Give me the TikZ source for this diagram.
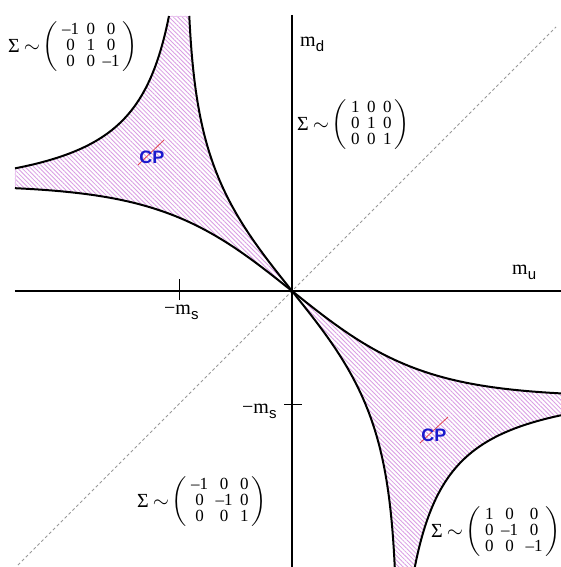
\documentclass[tikz,border=0pt]{standalone}
\usepackage{exscale}
\usepackage{fontspec}
\setmainfont{Liberation Serif}
\setsansfont{Liberation Sans}
\usetikzlibrary{patterns.meta,calc}
\definecolor{hatchcol}{RGB}{218,158,228}
\definecolor{cpblue}{RGB}{25,25,205}
\definecolor{cpred}{RGB}{225,70,80}
\newcommand{\SigMat}[3]{{\fontsize{20}{20}\selectfont Σ\hspace{4pt}$\sim$\hspace{3pt}$\biggl(\vcenter{\hbox{\fontsize{17}{15.5}\selectfont\begin{tabular}{@{\hspace{4pt}}c@{\hspace{7.5pt}}c@{\hspace{7.5pt}}c@{\hspace{3pt}}}#1\\#2\\#3\end{tabular}}}\biggr)$}}
\newcommand{\MLab}[2]{{\fontsize{20}{20}\selectfont #1m\raisebox{-5pt}{\sffamily\fontsize{15}{15}\selectfont #2}}}
\tikzset{
  axisline/.style={line width=1.9pt},
  bcurve/.style={line width=2pt},
  ticky/.style={line width=0.8pt},
  hatchfill/.style={pattern={Lines[angle=-45,distance=3.1pt,line width=0.85pt]},pattern color=hatchcol},
  pinkedge/.style={draw=hatchcol!60,line width=0.6pt},
  diag/.style={draw=black!40,line width=0.8pt,dash pattern=on 3pt off 2.5pt},
  siglab/.style={anchor=west,inner sep=0pt},
  mlab/.style={anchor=base west,inner sep=0pt},
  cptext/.style={text=cpblue,font=\sffamily\bfseries\fontsize{18}{18}\selectfont,inner sep=0pt},
  cpslash/.style={draw=cpred,line width=0.8pt}
}
\def\ms{106}
\def\cc{0.8}
\def\kk{85}
\begin{document}
\begin{tikzpicture}[x=1pt,y=1pt]
\useasboundingbox (-292,-276) rectangle (269,291);
\fill[white] (-292,-276) rectangle (269,291);
% coordinates
\coordinate (O) at (0,0);
\coordinate (xl) at (-277,0);
\coordinate (xr) at (269,0);
\coordinate (yt) at (0,276);
\coordinate (yb) at (0,-276);
\coordinate (dl) at (-274,-274);
\coordinate (dr) at (264,264);
% hatched regions
\path[hatchfill] (O)
  -- plot[domain=0:275,samples=80] ({-\ms*tanh(\cc*\x/\ms)},{\x})
  -- plot[domain=275:122.63,samples=80] ({-(\kk+7225/(\x-\kk))},{\x})
  -- plot[domain=277:0,samples=80] ({-\x},{\ms*tanh(\cc*\x/\ms)})
  -- cycle;
\path[hatchfill] (O)
  -- plot[domain=0:276,samples=80] ({\ms*tanh(\cc*\x/\ms)},{-\x})
  -- plot[domain=276:124.27,samples=80] ({\kk+7225/(\x-\kk)},{-\x})
  -- plot[domain=269:0,samples=80] ({\x},{-\ms*tanh(\cc*\x/\ms)})
  -- cycle;
\draw[pinkedge] ({-(\kk+7225/(275-\kk))},275) -- ({-\ms*tanh(\cc*275/\ms)},275);
\draw[pinkedge] (-277,122.63) -- (-277,{\ms*tanh(\cc*277/\ms)});
% diagonal
\draw[diag] (dl) -- (dr);
% axes
\draw[axisline] (xl) -- (xr);
\draw[axisline] (yt) -- (yb);
\draw[ticky] (-113,-9) -- (-113,12);
\draw[ticky] (-8,-113) -- (10,-113);
% boundary curves
\draw[bcurve] plot[domain=0:275,samples=80] ({-\ms*tanh(\cc*\x/\ms)},{\x});
\draw[bcurve] plot[domain=275:122.63,samples=80] ({-(\kk+7225/(\x-\kk))},{\x});
\draw[bcurve] plot[domain=277:0,samples=80] ({-\x},{\ms*tanh(\cc*\x/\ms)});
\draw[bcurve] plot[domain=0:276,samples=80] ({\ms*tanh(\cc*\x/\ms)},{-\x});
\draw[bcurve] plot[domain=276:124.27,samples=80] ({\kk+7225/(\x-\kk)},{-\x});
\draw[bcurve] plot[domain=269:0,samples=80] ({\x},{-\ms*tanh(\cc*\x/\ms)});
% CP labels
\coordinate (cpAc) at (-140,134);
\coordinate (cpBc) at (142,-144);
\draw[cpslash] ($(cpAc)+(-14,-8)$) -- ($(cpAc)+(12,17)$);
\draw[cpslash] ($(cpBc)+(-14,-8)$) -- ($(cpBc)+(14,18)$);
\node[cptext] (cpA) at (cpAc) {CP};
\node[cptext] (cpB) at (cpBc) {CP};
% axis labels
\node[mlab] (md) at (8,244) {\MLab{}{d}};
\node[mlab] (mu) at (220,16) {\MLab{}{u}};
\node[mlab] (msh) at (-128,-24) {\MLab{−}{s}};
\node[mlab] (msv) at (-50,-122) {\MLab{−}{s}};
% sigma labels
\node[siglab] (s1) at (-284,244) {\SigMat{–1 & 0 & 0}{0 & 1 & 0}{0 & 0 & –1}};
\node[siglab] (s2) at (5,166) {\SigMat{1 & 0 & 0}{0 & 1 & 0}{0 & 0 & 1}};
\node[siglab] (s3) at (-155,-211) {\SigMat{–1 & 0 & 0}{0 & –1 & 0}{0 & 0 & 1}};
\node[siglab] (s4) at (139,-241) {\SigMat{1 & 0 & 0}{0 & –1 & 0}{0 & 0 & –1}};
\end{tikzpicture}
\end{document}
